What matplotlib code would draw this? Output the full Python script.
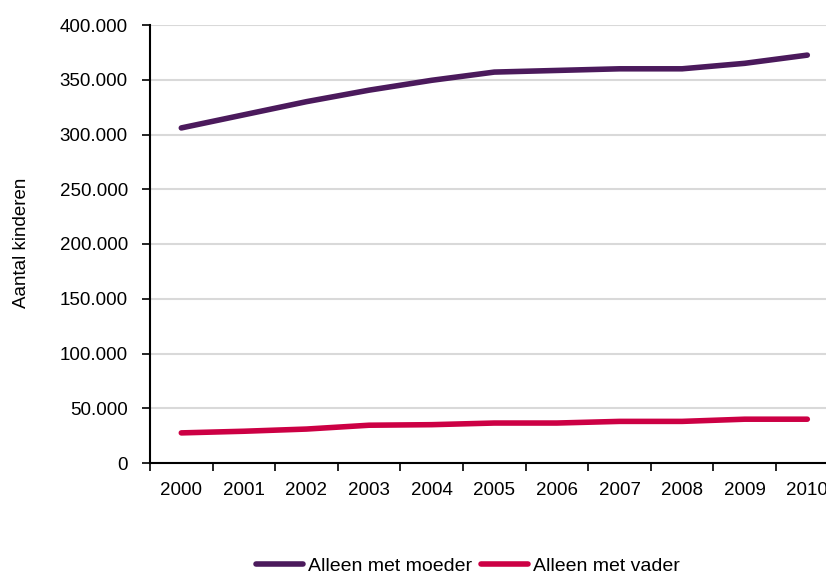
import matplotlib
matplotlib.use('Agg')
import matplotlib.pyplot as plt
from matplotlib.ticker import FuncFormatter, FixedLocator

plt.rcParams['font.family'] = ['Liberation Sans', 'DejaVu Sans']

years = ['2000', '2001', '2002', '2003', '2004', '2005', '2006', '2007', '2008', '2009', '2010']
moeder = [306000, 318000, 330000, 340500, 349500, 357000, 358500, 360000, 360000, 365000, 372500]
vader = [27500, 29000, 31000, 34500, 35000, 36500, 36500, 38000, 38000, 40000, 40000]

fig = plt.figure(figsize=(8.26, 5.74), dpi=100)
ax = fig.add_axes([150/826, 1-463/574, 688.6/826, (463-25)/574])

x = list(range(len(years)))
ax.plot(x, moeder, color='#4B1A5C', lw=4, solid_capstyle='round', label='Alleen met moeder')
ax.plot(x, vader, color='#CC0044', lw=4, solid_capstyle='round', label='Alleen met vader')

ax.set_xlim(-0.5, len(years) - 0.5)
ax.set_ylim(0, 400000)
ax.set_yticks(range(0, 400001, 50000))
ax.yaxis.set_major_formatter(FuncFormatter(lambda v, p: '0' if v == 0 else f'{int(v):,}'.replace(',', '.')))
ax.yaxis.grid(True, color='#D9D9D9', lw=1.5)
ax.set_axisbelow(True)

# jaartallen tussen de tickmarks, zoals in Excel
ax.set_xticks(x)
ax.set_xticklabels(years)
ax.xaxis.set_minor_locator(FixedLocator([i - 0.5 for i in range(len(years) + 1)]))
ax.tick_params(axis='x', which='major', length=0, pad=14, labelsize=13.5)
ax.tick_params(axis='x', which='minor', length=6, width=1.2, direction='out')
ax.tick_params(axis='y', length=6, width=1.2, direction='out', labelsize=13.5, pad=10)

for s in ['top', 'right']:
    ax.spines[s].set_visible(False)
ax.spines['left'].set_linewidth(1.5)
ax.spines['bottom'].set_linewidth(1.5)

fig.text(22/826, 1-243/574, 'Aantal kinderen', rotation=90, ha='center', va='center', fontsize=13.5)

fig.legend(loc='center', bbox_to_anchor=(468/826, 1-566/574), ncol=2, frameon=False,
           fontsize=14, handlelength=2.4, handletextpad=0.25, columnspacing=0.5)

fig.savefig('out.png', dpi=100)
